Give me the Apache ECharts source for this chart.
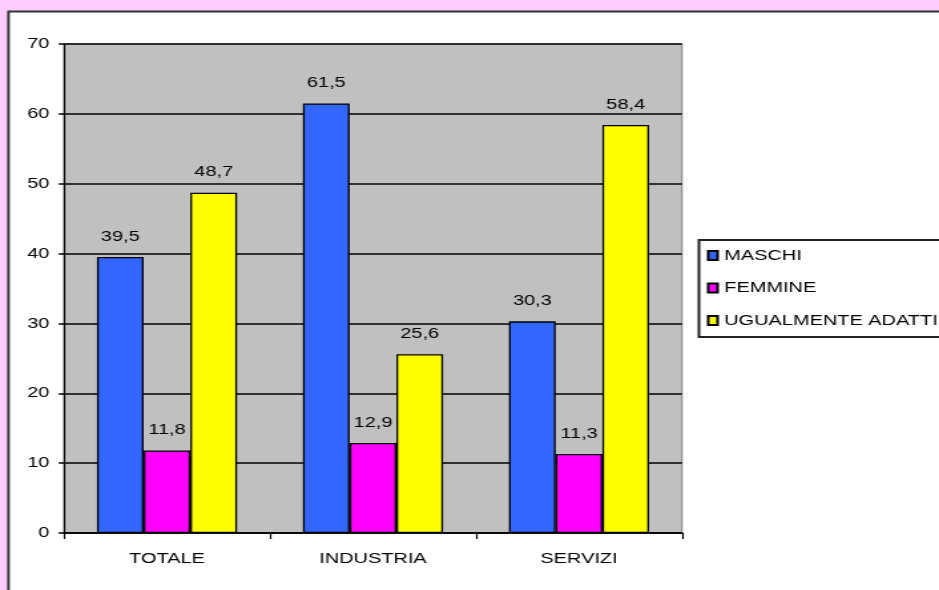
<!DOCTYPE html>
<html><head><meta charset="utf-8">
<script src="https://cdn.jsdelivr.net/npm/echarts@6/dist/echarts.min.js"></script>
<style>
html,body{margin:0;padding:0;background:#FFCCFF;overflow:hidden}
#wrap{width:939px;height:590px;overflow:hidden}
#c{width:706px;height:590px;transform:scaleX(1.33003);transform-origin:0 0}
</style>
</head><body><div id="wrap"><div id="c"></div></div>
<script>
const categories = ['TOTALE', 'INDUSTRIA', 'SERVIZI'];
const seriesNames = ['MASCHI', 'FEMMINE', 'UGUALMENTE ADATTI'];
const maschi = [39.5, 61.5, 30.3];
const femmine = [11.8, 12.9, 11.3];
const ugualmente = [48.7, 25.6, 58.4];
const colors = ['#3366FF', '#FF00FF', '#FFFF00'];

const font = 'Liberation Sans, Arial, sans-serif';
const chart = echarts.init(document.getElementById('c'));
const data = [maschi, femmine, ugualmente];
chart.setOption({
  backgroundColor: '#FFCCFF',
  animation: false,
  textStyle: {fontFamily: font},
  graphic: [{
    type: 'rect', z: -10, silent: true,
    shape: {x: 6.4, y: 11.5, width: 760, height: 600},
    style: {fill: '#FFFFFF', stroke: '#333333', lineWidth: 2}
  }],
  grid: {left: 48.1, top: 44, right: 193.2, bottom: 57, show: true, backgroundColor: '#C0C0C0', borderColor: '#808080', borderWidth: 1},
  legend: {
    orient: 'vertical', left: 525.5, top: 240,
    itemWidth: 7, itemHeight: 9, itemGap: 17.5,
    padding: [8, 60, 9, 6],
    borderColor: '#222', borderWidth: 2,
    textStyle: {fontFamily: font, fontSize: 15, color: '#000'},
    data: seriesNames.map(n => ({name: n, icon: 'rect'}))
  },
  xAxis: {
    type: 'category', data: categories,
    axisLine: {lineStyle: {color: '#000', width: 1.5}},
    axisTick: {show: true, length: 6, lineStyle: {color: '#000', width: 1.2}},
    axisLabel: {color: '#000', fontSize: 15, margin: 18, fontFamily: font}
  },
  yAxis: {
    type: 'value', min: 0, max: 70, interval: 10,
    axisLine: {show: true, lineStyle: {color: '#000', width: 1.2}},
    axisTick: {show: true, length: 4, lineStyle: {color: '#000', width: 1.5}},
    axisLabel: {color: '#000', fontSize: 15, margin: 11, fontFamily: font},
    splitLine: {lineStyle: {color: '#000', width: 1.5}}
  },
  series: seriesNames.map((n, i) => ({
    name: n, type: 'bar', data: data[i],
    barGap: '0%', barCategoryGap: '32%',
    itemStyle: {color: colors[i], borderColor: '#000', borderWidth: 1.3},
    label: {show: true, position: 'top', distance: 13, color: '#000', fontSize: 15, fontFamily: font,
      formatter: p => p.value.toFixed(1).replace('.', ',')}
  }))
});
</script></body></html>
